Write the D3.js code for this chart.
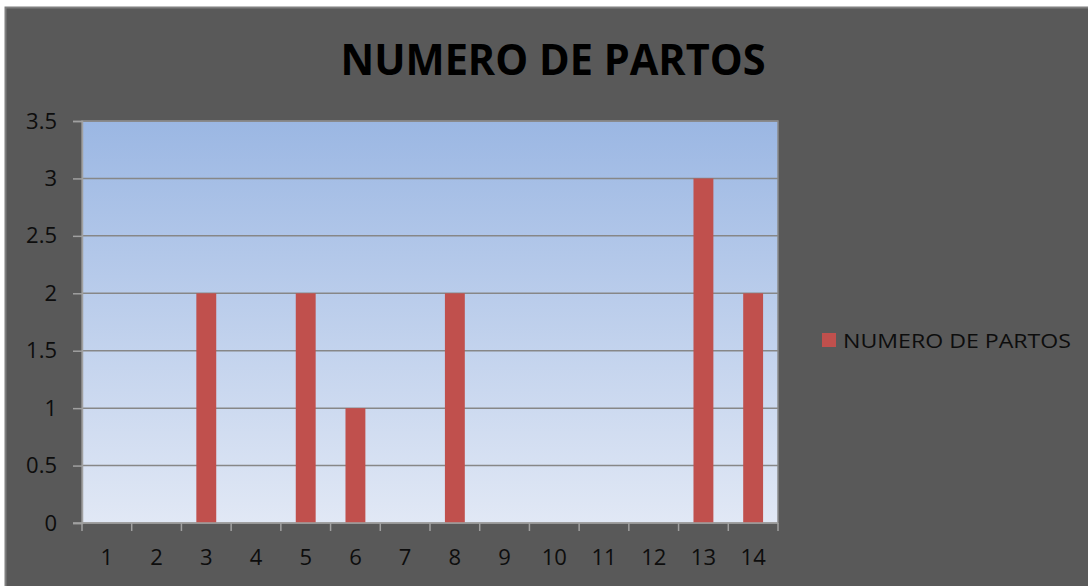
<!DOCTYPE html>
<html>
<head>
<meta charset="utf-8">
<script src="https://cdn.jsdelivr.net/npm/d3@7"></script>
<style>
  html, body { margin: 0; padding: 0; background: #ffffff; }
  svg { display: block; }
</style>
</head>
<body>
<div id="chart"></div>
<script>
// Data
const categories = ["1", "2", "3", "4", "5", "6", "7", "8", "9", "10", "11", "12", "13", "14"];
const partos = [0, 0, 2, 0, 2, 1, 0, 2, 0, 0, 0, 0, 3, 2];
const yTicks = [0, 0.5, 1, 1.5, 2, 2.5, 3, 3.5];
const seriesName = "NUMERO DE PARTOS";
const chartTitle = "NUMERO DE PARTOS";

const width = 1088, height = 586;
const plot = { left: 82, top: 121, right: 778, bottom: 523 };

const svg = d3.select("#chart")
    .append("svg")
    .attr("width", width)
    .attr("height", height);

// Chart background (dark gray) with thin border
svg.append("rect")
    .attr("x", 5.5).attr("y", 7.5)
    .attr("width", width).attr("height", height)
    .attr("fill", "#595959")
    .attr("stroke", "#7f7f7f")
    .attr("stroke-width", 2);

// Gradient for the plot area
const defs = svg.append("defs");
const grad = defs.append("linearGradient")
    .attr("id", "plot-grad")
    .attr("x1", "0%").attr("y1", "0%")
    .attr("x2", "0%").attr("y2", "100%");
grad.append("stop").attr("offset", "0%").attr("stop-color", "#9bb7e3");
grad.append("stop").attr("offset", "100%").attr("stop-color", "#e1e8f5");

// Scales
const x = d3.scaleBand()
    .domain(categories)
    .range([plot.left, plot.right])
    .paddingInner(0.6)
    .paddingOuter(0.3);

const xEdge = d3.scaleBand()
    .domain(categories)
    .range([plot.left, plot.right]);

const y = d3.scaleLinear()
    .domain([0, 3.5])
    .range([plot.bottom, plot.top]);

// Plot area
svg.append("rect")
    .attr("x", plot.left).attr("y", plot.top)
    .attr("width", plot.right - plot.left)
    .attr("height", plot.bottom - plot.top)
    .attr("fill", "url(#plot-grad)")
    .attr("stroke", "#8a8a8a")
    .attr("stroke-width", 1.5);

// Gridlines
svg.selectAll(".grid")
    .data(yTicks.filter(d => d > 0))
    .enter().append("line")
    .attr("class", "grid")
    .attr("x1", plot.left).attr("x2", plot.right)
    .attr("y1", d => y(d)).attr("y2", d => y(d))
    .attr("stroke", "#878787")
    .attr("stroke-width", 1.5);

// Bars
svg.selectAll(".bar")
    .data(partos)
    .enter().append("rect")
    .attr("class", "bar")
    .attr("x", (d, i) => x(categories[i]))
    .attr("width", x.bandwidth())
    .attr("y", d => y(d))
    .attr("height", d => y(0) - y(d))
    .attr("fill", "#c0504d");

// Y axis
const yAxis = svg.append("g")
    .attr("transform", `translate(${plot.left},0)`)
    .call(d3.axisLeft(y).tickValues(yTicks).tickSize(9).tickPadding(16)
        .tickFormat(d => String(d)));
yAxis.attr("font-size", null).attr("font-family", null);
yAxis.select(".domain").attr("stroke", "#a0a0a0").attr("stroke-width", 1.5);
yAxis.selectAll(".tick line").attr("stroke", "#a0a0a0").attr("stroke-width", 1.5);
yAxis.selectAll("text")
    .attr("fill", "#0d0d0d")
    .attr("font-family", "'Open Sans', sans-serif")
    .attr("font-size", "22px");

// X axis: ticks at category boundaries
const xAxisG = svg.append("g")
    .attr("transform", `translate(0,${plot.bottom})`);
xAxisG.append("line")
    .attr("x1", plot.left - 9).attr("x2", plot.right)
    .attr("stroke", "#a0a0a0").attr("stroke-width", 1.5);
xAxisG.selectAll(".xtick")
    .data(categories.concat(["end"]))
    .enter().append("line")
    .attr("class", "xtick")
    .attr("x1", (d, i) => i < categories.length ? xEdge(d) : plot.right)
    .attr("x2", (d, i) => i < categories.length ? xEdge(d) : plot.right)
    .attr("y1", 0).attr("y2", 8)
    .attr("stroke", "#a0a0a0").attr("stroke-width", 1.5);
xAxisG.selectAll(".xlabel")
    .data(categories)
    .enter().append("text")
    .attr("class", "xlabel")
    .attr("x", d => xEdge(d) + xEdge.bandwidth() / 2)
    .attr("y", 42)
    .attr("text-anchor", "middle")
    .attr("fill", "#0d0d0d")
    .attr("font-family", "'Open Sans', sans-serif")
    .attr("font-size", "22px")
    .text(d => d);

// Title
svg.append("text")
    .attr("x", 553)
    .attr("y", 75)
    .attr("text-anchor", "middle")
    .attr("fill", "#000000")
    .attr("textLength", 425)
    .attr("lengthAdjust", "spacingAndGlyphs")
    .attr("font-family", "'Open Sans', sans-serif")
    .attr("font-weight", "bold")
    .attr("font-size", "43px")
    .text(chartTitle);

// Legend
const legend = svg.append("g").attr("transform", "translate(822,333)");
legend.append("rect")
    .attr("width", 14).attr("height", 14)
    .attr("fill", "#c0504d");
legend.append("text")
    .attr("x", 21)
    .attr("y", 14.5)
    .attr("fill", "#0d0d0d")
    .attr("textLength", 228)
    .attr("lengthAdjust", "spacingAndGlyphs")
    .attr("font-family", "'Open Sans', sans-serif")
    .attr("font-size", "20px")
    .text(seriesName);
</script>
</body>
</html>
